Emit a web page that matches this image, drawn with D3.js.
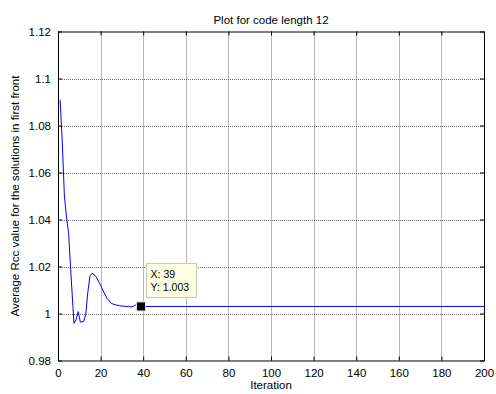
<!DOCTYPE html>
<html>
<head>
<meta charset="utf-8">
<script src="https://cdn.jsdelivr.net/npm/d3@7"></script>
<style>
  html, body { margin: 0; padding: 0; background: #fff; }
  svg { display: block; font-family: "Liberation Sans", Arial, sans-serif; }
</style>
</head>
<body>
<svg id="chart" width="496" height="394"></svg>
<script>
// Average Rcc per iteration (convergence of the first front)
const iterations = [1, 2, 3, 4, 5, 6, 7, 7.5, 8.5, 9.5, 10.5, 12, 13, 14, 15, 16, 17, 18, 20, 21, 23, 25, 27, 29, 31, 33, 34.5, 36, 37, 39, 200];
const rccValues  = [1.091, 1.073, 1.050, 1.041, 1.034, 1.018, 1.003, 0.9958, 0.9975, 1.0008, 0.9963, 0.9966, 0.9994, 1.0090, 1.0160, 1.0171, 1.0165, 1.0155, 1.0120, 1.0100, 1.0065, 1.0043, 1.0037, 1.0033, 1.0031, 1.0029, 1.0028, 1.0034, 1.0038, 1.003, 1.003];
const xTicks = [0, 20, 40, 60, 80, 100, 120, 140, 160, 180, 200];
const yTicks = [0.98, 1.0, 1.02, 1.04, 1.06, 1.08, 1.1, 1.12];
const yTickLabels = ["0.98", "1", "1.02", "1.04", "1.06", "1.08", "1.1", "1.12"];
const tipX = 39, tipY = 1.003;

const svg = d3.select("#chart");
const m = { left: 58, right: 484, top: 31.5, bottom: 360.5 };
const fontSize = "11.5px";

const x = d3.scaleLinear().domain([0, 200]).range([m.left, m.right]);
const y = d3.scaleLinear().domain([0.98, 1.12]).range([m.bottom, m.top]);

// grid
const grid = svg.append("g").attr("stroke", "#6e6e6e").attr("stroke-width", 1).attr("stroke-dasharray", "1,1");
xTicks.slice(1, -1).forEach(t => grid.append("line")
  .attr("x1", Math.round(x(t)) + 0.5).attr("x2", Math.round(x(t)) + 0.5).attr("y1", m.top).attr("y2", m.bottom));
yTicks.slice(1, -1).forEach(t => grid.append("line")
  .attr("x1", m.left).attr("x2", m.right).attr("y1", Math.round(y(t)) + 0.5).attr("y2", Math.round(y(t)) + 0.5));

// axes with inward ticks
const tl = 4;
const bottomAxis = d3.axisBottom(x).tickValues(xTicks).tickSizeInner(-tl).tickSizeOuter(0).tickPadding(8);
const topAxis = d3.axisTop(x).tickValues(xTicks).tickSizeInner(-tl).tickSizeOuter(0).tickFormat("");
const leftAxis = d3.axisLeft(y).tickValues(yTicks).tickSizeInner(-tl).tickSizeOuter(0).tickPadding(7)
  .tickFormat((d, i) => yTickLabels[i]);
const rightAxis = d3.axisRight(y).tickValues(yTicks).tickSizeInner(-tl).tickSizeOuter(0).tickFormat("");

function style(g) {
  g.selectAll("path").attr("stroke", "#000").attr("stroke-width", 1);
  g.selectAll("line").attr("stroke", "#000");
  g.selectAll("text").attr("fill", "#000").style("font-size", fontSize).style("font-family", "'Liberation Sans', Arial, sans-serif");
}
svg.append("g").attr("transform", `translate(0,${m.bottom})`).call(bottomAxis).call(style);
svg.append("g").attr("transform", `translate(0,${m.top})`).call(topAxis).call(style);
svg.append("g").attr("transform", `translate(${m.left},0)`).call(leftAxis).call(style);
svg.append("g").attr("transform", `translate(${m.right},0)`).call(rightAxis).call(style);

// series
const series = iterations.map((it, i) => [it, rccValues[i]]);
svg.append("path")
  .datum(series)
  .attr("fill", "none")
  .attr("stroke", "#0000ff")
  .attr("stroke-width", 1)
  .attr("d", d3.line().x(d => x(d[0])).y(d => y(d[1])));

// data tip
const px = x(tipX), py = y(tipY);
svg.append("rect")
  .attr("x", px - 4.5).attr("y", py - 4.5).attr("width", 9).attr("height", 9)
  .attr("fill", "#000").attr("stroke", "#ddd").attr("stroke-width", 1);
const box = svg.append("g").attr("transform", `translate(${px + 5.5},${py - 43})`);
box.append("rect").attr("x", 0).attr("y", 0).attr("width", 50).attr("height", 34)
  .attr("fill", "#ffffe1").attr("stroke", "#c8c8b4").attr("stroke-width", 1);
box.append("text").attr("x", 4).attr("y", 15).style("font-size", "10.5px").text(`X: ${tipX}`);
box.append("text").attr("x", 4).attr("y", 28).style("font-size", "10.5px").text(`Y: ${tipY}`);

// labels
svg.append("text").attr("x", (m.left + m.right) / 2).attr("y", 24).attr("text-anchor", "middle")
  .style("font-size", fontSize).text("Plot for code length 12");
svg.append("text").attr("x", (m.left + m.right) / 2).attr("y", 389).attr("text-anchor", "middle")
  .style("font-size", fontSize).text("Iteration");
svg.append("text").attr("transform", `translate(19,${(m.top + m.bottom) / 2}) rotate(-90)`).attr("text-anchor", "middle")
  .style("font-size", fontSize).text("Average Rcc value for the solutions in first front");
</script>
</body>
</html>
